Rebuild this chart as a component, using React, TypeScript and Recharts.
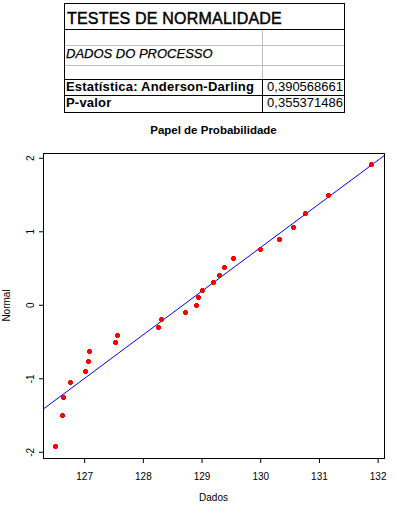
import {
  ScatterChart,
  Scatter,
  XAxis,
  YAxis,
  ReferenceLine,
  ReferenceArea,
} from 'recharts';

// sorted process data and its normal scores
const DADOS = [
  126.51, 126.62, 126.64, 126.76, 127.01, 127.06, 127.08, 127.52, 127.56,
  128.25, 128.31, 128.72, 128.91, 128.94, 129.0, 129.19, 129.29, 129.38,
  129.54, 129.99, 130.32, 130.56, 130.76, 131.16, 131.88,
];
const NORMAL = [
  -1.92, -1.5, -1.25, -1.05, -0.9, -0.76, -0.63, -0.51, -0.41, -0.3, -0.2,
  -0.1, 0.0, 0.1, 0.2, 0.31, 0.41, 0.52, 0.63, 0.76, 0.9, 1.06, 1.25, 1.5,
  1.92,
];

const X_TICKS = [127, 128, 129, 130, 131, 132];
const Y_TICKS = [-2, -1, 0, 1, 2];
const X_DOMAIN = [126.29, 132.1];
const Y_DOMAIN = [-2.078, 2.072];

// fitted normal line endpoints
const FIT_X = [126.29, 132.1];
const FIT_Y = [-1.415, 2.035];

const TABLE_TITLE = 'TESTES DE NORMALIDADE';
const TABLE_SUBTITLE = 'DADOS DO PROCESSO';
const STAT_LABELS = ['Estatística: Anderson-Darling', 'P-valor'];
const STAT_VALUES = ['0,390568661', '0,355371486'];

const FONT = '"Liberation Sans", Arial, sans-serif';

const points = DADOS.map((x, i) => ({ x, y: NORMAL[i] }));

function Dot({ cx, cy }: { cx?: number; cy?: number }) {
  if (cx == null || cy == null) return null;
  return (
    <g fill="#ff0000" shapeRendering="crispEdges">
      <rect x={cx - 2.5} y={cy - 1.5} width={5} height={3} />
      <rect x={cx - 1.5} y={cy - 2.5} width={3} height={5} />
    </g>
  );
}

function YTick({ x, y, payload }: any) {
  const tx = x - 3;
  return (
    <text
      x={tx}
      y={y}
      transform={`rotate(-90 ${tx} ${y})`}
      textAnchor="middle"
      fontSize={10}
      fontFamily={FONT}
      fill="#000"
    >
      {payload.value}
    </text>
  );
}

function StatsTable() {
  const gray = '#c0c0c0';
  return (
    <svg
      width={398}
      height={145}
      style={{ position: 'absolute', left: 0, top: 0 }}
      fontFamily={FONT}
    >
      <g shapeRendering="crispEdges">
        <line x1={64} x2={345} y1={45.5} y2={45.5} stroke={gray} />
        <line x1={64} x2={345} y1={65.5} y2={65.5} stroke={gray} />
        <line x1={262.5} x2={262.5} y1={29} y2={79} stroke={gray} />
        <line x1={262.5} x2={262.5} y1={79} y2={113} stroke="#000" />
        <line x1={64} x2={345} y1={29.5} y2={29.5} stroke="#000" />
        <line x1={64} x2={345} y1={79.5} y2={79.5} stroke="#000" />
        <line x1={64} x2={345} y1={95.5} y2={95.5} stroke="#000" />
        <rect x={64.5} y={3.5} width={280} height={109} fill="none" stroke="#000" />
      </g>
      <text
        x={67}
        y={23.5}
        fontSize={16}
        letterSpacing={0.2}
        stroke="#000"
        strokeWidth={0.45}
      >
        {TABLE_TITLE}
      </text>
      <text
        x={66}
        y={57.5}
        fontSize={13}
        fontStyle="italic"
        stroke="#000"
        strokeWidth={0.25}
      >
        {TABLE_SUBTITLE}
      </text>
      {STAT_LABELS.map((s, i) => (
        <text
          key={s}
          x={66}
          y={91 + i * 16}
          fontSize={13}
          fontWeight="bold"
          letterSpacing={0.2}
        >
          {s}
        </text>
      ))}
      {STAT_VALUES.map((v, i) => (
        <text key={v} x={343} y={91 + i * 16} fontSize={13} textAnchor="end">
          {v}
        </text>
      ))}
      <text
        x={213.5}
        y={134}
        fontSize={11.5}
        fontWeight="bold"
        textAnchor="middle"
      >
        Papel de Probabilidade
      </text>
    </svg>
  );
}

export default function App() {
  return (
    <div
      style={{
        position: 'absolute',
        left: 0,
        top: 0,
        width: 398,
        height: 505,
        background: '#fff',
        overflow: 'hidden',
      }}
    >
      <ScatterChart
        width={398}
        height={505}
        margin={{ top: 153, right: 14, bottom: 0, left: 0 }}
      >
        <XAxis
          type="number"
          dataKey="x"
          domain={X_DOMAIN}
          ticks={X_TICKS}
          allowDataOverflow
          height={47}
          axisLine={false}
          tickSize={5}
          tickMargin={10}
          tickLine={{ stroke: '#000' }}
          tick={{ fontSize: 10, fill: '#000', fontFamily: FONT }}
          label={({ viewBox }: any) => (
            <text
              x={viewBox.x + viewBox.width / 2}
              y={500.5}
              textAnchor="middle"
              fontSize={10}
              fontFamily={FONT}
              fill="#000"
            >
              Dados
            </text>
          )}
        />
        <YAxis
          type="number"
          dataKey="y"
          domain={Y_DOMAIN}
          ticks={Y_TICKS}
          allowDataOverflow
          width={43}
          axisLine={false}
          tickSize={4}
          tickMargin={2}
          tickLine={{ stroke: '#000' }}
          tick={<YTick />}
          label={({ viewBox }: any) => {
            const cy = viewBox.y + viewBox.height / 2;
            return (
              <text
                x={10}
                y={cy}
                transform={`rotate(-90 10 ${cy})`}
                textAnchor="middle"
                fontSize={10}
                fontFamily={FONT}
                fill="#000"
              >
                Normal
              </text>
            );
          }}
        />
        <ReferenceArea
          x1={X_DOMAIN[0]}
          x2={X_DOMAIN[1]}
          y1={Y_DOMAIN[0]}
          y2={Y_DOMAIN[1]}
          fill="none"
          stroke="#000"
          strokeWidth={1}
          shapeRendering="crispEdges"
          ifOverflow="visible"
        />
        <ReferenceLine
          segment={[
            { x: FIT_X[0], y: FIT_Y[0] },
            { x: FIT_X[1], y: FIT_Y[1] },
          ]}
          stroke="#0000ff"
          strokeWidth={1}
          ifOverflow="visible"
        />
        <Scatter data={points} shape={<Dot />} isAnimationActive={false} />
      </ScatterChart>
      <StatsTable />
    </div>
  );
}
